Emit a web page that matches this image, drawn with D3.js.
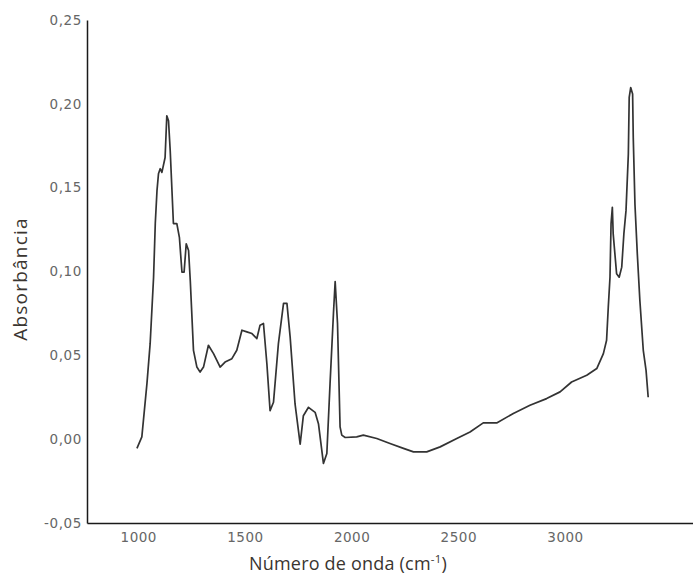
<!DOCTYPE html>
<html>
<head>
<meta charset="utf-8">
<script src="https://cdn.jsdelivr.net/npm/d3@7"></script>
<style>
  body { margin: 0; background: #fff; }
  .tick text { font-family: "DejaVu Sans", sans-serif; fill: #666; }
  .axis-title { font-family: "Open Sans", sans-serif; fill: #3a3530; }
</style>
</head>
<body>
<div id="chart"></div>
<script>
// wavenumber (cm-1)
const wavenumber = [
  994, 1017, 1041, 1056, 1072, 1080, 1088, 1095, 1103, 1111, 1126, 1134, 1142, 1150,
  1165, 1181, 1193, 1205, 1215, 1225, 1236, 1244, 1259, 1275, 1290, 1306, 1329, 1353,
  1384, 1407, 1439, 1462, 1486, 1509, 1533, 1556, 1571, 1587, 1603, 1618, 1634, 1657,
  1681, 1697, 1712, 1735, 1759, 1774, 1798, 1829, 1845, 1868, 1884, 1899, 1915, 1923,
  1934, 1946, 1954, 1970, 2024, 2055, 2118, 2180, 2243, 2290, 2352, 2415, 2493, 2555,
  2617, 2680, 2758, 2836, 2914, 2977, 3031, 3102, 3149, 3180, 3195, 3203, 3211, 3216,
  3222, 3226, 3234, 3242, 3254, 3266, 3276, 3286, 3297, 3301, 3308, 3317, 3320, 3328,
  3339, 3351, 3367, 3380, 3390
];
const absorbance = [
  -0.0055, 0.0014, 0.0333, 0.0571, 0.0966, 0.1286, 0.1482, 0.1583, 0.1613, 0.1591, 0.168, 0.1929, 0.1899, 0.172,
  0.1286, 0.1286, 0.1204, 0.0996, 0.0996, 0.1165, 0.1125, 0.0946, 0.053, 0.043, 0.040, 0.043, 0.056, 0.051,
  0.043, 0.046, 0.048, 0.053, 0.065, 0.064, 0.063, 0.060, 0.068, 0.069, 0.045, 0.017, 0.022, 0.057,
  0.081, 0.081, 0.061, 0.021, -0.003, 0.014, 0.019, 0.016, 0.009, -0.0145, -0.0085, 0.033, 0.075, 0.094,
  0.069, 0.0073, 0.0024, 0.001, 0.0014, 0.0024, 0.0004, -0.0026, -0.0055, -0.0076, -0.0076, -0.0046, 0.0004, 0.0043,
  0.0097, 0.0097, 0.0153, 0.0202, 0.0242, 0.0282, 0.0341, 0.0381, 0.0421, 0.051, 0.059, 0.0788, 0.0966, 0.1286,
  0.1383, 0.1224, 0.1105, 0.0986, 0.0966, 0.1026, 0.1224, 0.1363, 0.170, 0.2038, 0.2097, 0.2058, 0.180, 0.140,
  0.1105, 0.0827, 0.053, 0.041, 0.025
];
const xTicks = [1000, 1500, 2000, 2500, 3000];
const yTicks = [-0.05, 0, 0.05, 0.10, 0.15, 0.20, 0.25];

const width = 693, height = 578;
const margins = { top: 20, right: 0, bottom: 55, left: 87 };

const x = d3.scaleLinear()
  .domain([760, 3600])
  .range([margins.left, width - margins.right]);

const y = d3.scaleLinear()
  .domain([-0.05, 0.25])
  .range([height - margins.bottom, margins.top]);

const svg = d3.select('#chart')
  .append('svg')
    .attr('width', width)
    .attr('height', height);

// 0,05 style labels with a plain hyphen for negatives
const fmt = d => d3.format('.2f')(d).replace('.', ',').replace('\u2212', '-');

// Axes
const xAxis = svg.append('g')
  .attr('transform', `translate(0,${height - margins.bottom})`)
  .call(d3.axisBottom(x).tickValues(xTicks).tickSize(0).tickPadding(9).tickFormat(d3.format('d')));
xAxis.selectAll('text').attr('font-size', 13.5).attr('letter-spacing', 0.5);

const yAxis = svg.append('g')
  .attr('transform', `translate(${margins.left},0)`)
  .call(d3.axisLeft(y).tickValues(yTicks).tickSize(0).tickPadding(5).tickFormat(fmt));
yAxis.selectAll('text').attr('font-size', 13.5).attr('letter-spacing', 0.6);

[xAxis, yAxis].forEach(a => {
  a.select('.domain').attr('stroke', '#1a1a1a').attr('stroke-width', 1.5);
});

// Spectrum
const points = wavenumber.map((w, i) => ({ w, a: absorbance[i] }));
const line = d3.line()
  .x(d => x(d.w))
  .y(d => y(d.a));

svg.append('path')
  .datum(points)
  .attr('d', line)
  .attr('fill', 'none')
  .attr('stroke', '#333')
  .attr('stroke-width', 1.7)
  .attr('stroke-linejoin', 'round');

// Titles
const xTitle = svg.append('text')
  .attr('class', 'axis-title')
  .attr('x', 348)
  .attr('y', 570)
  .attr('text-anchor', 'middle')
  .attr('font-size', 18)
  .attr('letter-spacing', 0.2)
  .text('Número de onda (cm');
xTitle.append('tspan').attr('font-size', 11.5).attr('dy', -7).text('-1');
xTitle.append('tspan').attr('dy', 7).text(')');

svg.append('text')
  .attr('class', 'axis-title')
  .attr('transform', 'translate(27,279) rotate(-90)')
  .attr('text-anchor', 'middle')
  .attr('font-size', 19)
  .attr('letter-spacing', 1.2)
  .text('Absorbância');
</script>
</body>
</html>
